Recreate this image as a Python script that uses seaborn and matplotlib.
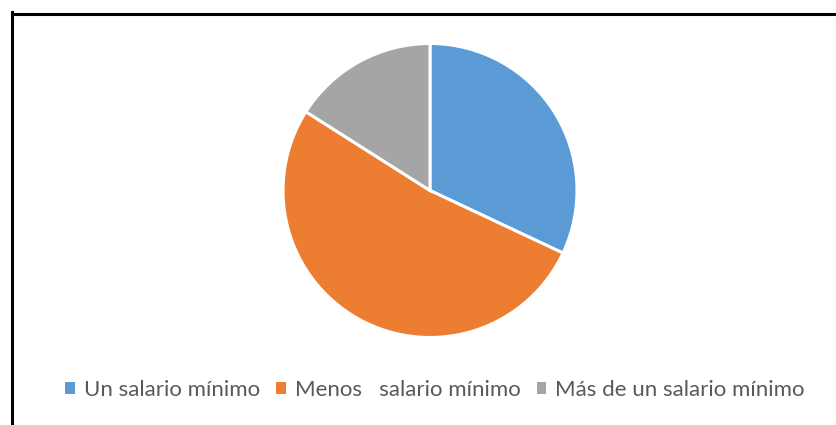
import matplotlib
matplotlib.use("Agg")
import matplotlib.pyplot as plt
import seaborn as sns
from matplotlib.patches import Patch
from matplotlib.lines import Line2D

categories = ["Un salario mínimo", "Menos   salario mínimo", "Más de un salario mínimo"]
values = [32, 52, 16]
colors = ["#5B9BD5", "#ED7D31", "#A5A5A5"]

sns.set_theme(style="white")
plt.rcParams['font.family'] = ['Lato', 'DejaVu Sans']

W, H = 836, 425
fig = plt.figure(figsize=(W / 100, H / 100), dpi=100)
fig.patch.set_facecolor("white")

# border (left and top visible)
fig.add_artist(Line2D([11.5 / W, 11.5 / W], [0, 1 - 12 / H], transform=fig.transFigure,
                      color="black", lw=2.2, solid_capstyle="projecting"))
fig.add_artist(Line2D([11.5 / W, 1.0], [1 - 13.5 / H, 1 - 13.5 / H], transform=fig.transFigure,
                      color="black", lw=2.2, solid_capstyle="projecting"))

cx, cy, r = 430, 190.5, 147
ax = fig.add_axes([(cx - r) / W, (H - cy - r) / H, 2 * r / W, 2 * r / H])
ax.pie(values, colors=colors, startangle=90, counterclock=False, radius=1,
       wedgeprops=dict(edgecolor="white", linewidth=2.2))
ax.set_xlim(-1, 1)
ax.set_ylim(-1, 1)
ax.set_aspect("equal")
ax.axis("off")

handles = [Patch(facecolor=c, edgecolor="none") for c in colors]
leg = fig.legend(handles, categories, loc="center", bbox_to_anchor=(435 / W, 1 - 390 / H),
                 ncol=3, frameon=False, fontsize=16, handlelength=0.42, handleheight=0.42,
                 handletextpad=0.4, columnspacing=0.75, labelcolor="#595959")

fig.savefig("out.png", dpi=100, facecolor="white")
